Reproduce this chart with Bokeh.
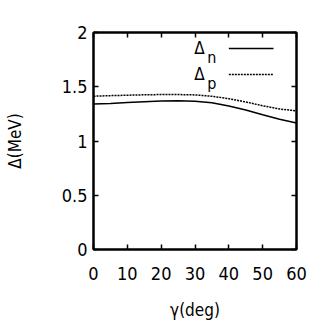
from bokeh.plotting import figure
from bokeh.models import Range1d, LinearAxis, FixedTicker, Label
from bokeh.embed import file_html
from bokeh.resources import INLINE

# data
gamma = [0, 5, 10, 15, 20, 25, 30, 35, 40, 45, 50, 55, 60]
delta_n = [1.340, 1.346, 1.355, 1.362, 1.368, 1.370, 1.367, 1.352, 1.322, 1.285, 1.242, 1.200, 1.166]
delta_p = [1.413, 1.418, 1.422, 1.426, 1.428, 1.428, 1.425, 1.412, 1.390, 1.360, 1.325, 1.295, 1.278]
x_ticks = [0, 10, 20, 30, 40, 50, 60]
y_ticks = [0, 0.5, 1, 1.5, 2]
y_labels = {0: "0", 0.5: "0.5", 1: "1", 1.5: "1.5", 2: "2"}
legend_x = [40.0, 53.2]
legend_y = [1.853, 1.613]
legend_text_x = 29.8
x_title = "γ(deg)"
y_title = "Δ(MeV)"

FONT = "'DejaVu Sans Condensed', 'Liberation Sans Narrow', 'Liberation Sans', sans-serif"

p = figure(width=311, height=325, output_backend="svg", toolbar_location=None,
           x_range=Range1d(0, 60), y_range=Range1d(0, 2),
           min_border_left=93, min_border_right=15, min_border_top=32, min_border_bottom=76,
           x_axis_label=x_title, y_axis_label=y_title)
p.xgrid.visible = False
p.ygrid.visible = False
p.outline_line_color = "black"
p.outline_line_width = 2
p.background_fill_color = "white"
p.border_fill_color = "white"

p.xaxis.ticker = FixedTicker(ticks=x_ticks)
p.yaxis.ticker = FixedTicker(ticks=y_ticks)
p.yaxis.major_label_overrides = y_labels
for ax in [p.xaxis[0], p.yaxis[0]]:
    ax.axis_line_width = 2
    ax.major_tick_in = 5
    ax.major_tick_out = 0
    ax.minor_tick_line_color = None
    ax.major_tick_line_width = 1.5
    ax.major_label_text_font = FONT
    ax.major_label_text_font_size = "18px"
    ax.major_label_text_color = "black"
    ax.axis_label_text_font = FONT
    ax.axis_label_text_font_size = "17px"
    ax.axis_label_text_font_style = "normal"
    ax.axis_label_text_color = "black"
p.xaxis.major_label_standoff = 17
p.xaxis.axis_label_standoff = 17
p.yaxis.major_label_standoff = 6
p.yaxis.axis_label_standoff = 34

for loc, tk in [("above", x_ticks), ("right", y_ticks)]:
    ax = LinearAxis(ticker=FixedTicker(ticks=tk),
                    major_label_overrides={t: "" for t in tk},
                    major_label_text_font_size="10px",
                    major_label_standoff=0, axis_line_width=2,
                    major_tick_in=5, major_tick_out=0, major_tick_line_width=1.5,
                    minor_tick_line_color=None)
    p.add_layout(ax, loc)

p.line(gamma, delta_n, line_color="black", line_width=1.5)
p.line(gamma, delta_p, line_color="black", line_width=1.5, line_dash="2 1")

# legend
p.line(legend_x, [legend_y[0]] * 2, line_color="black", line_width=1.5)
p.line(legend_x, [legend_y[1]] * 2, line_color="black", line_width=1.5, line_dash="2 1")
for yy, sub in zip(legend_y, ["n", "p"]):
    p.add_layout(Label(x=legend_text_x, y=yy, text="Δ", text_font=FONT, text_font_size="17px",
                       text_baseline="middle", text_align="left", text_color="black"))
    p.add_layout(Label(x=legend_text_x, y=yy, x_offset=13, y_offset=-9, text=sub, text_font=FONT,
                       text_font_size="16px", text_baseline="middle", text_align="left",
                       text_color="black"))

open("out.html", "w").write(file_html(p, INLINE))
